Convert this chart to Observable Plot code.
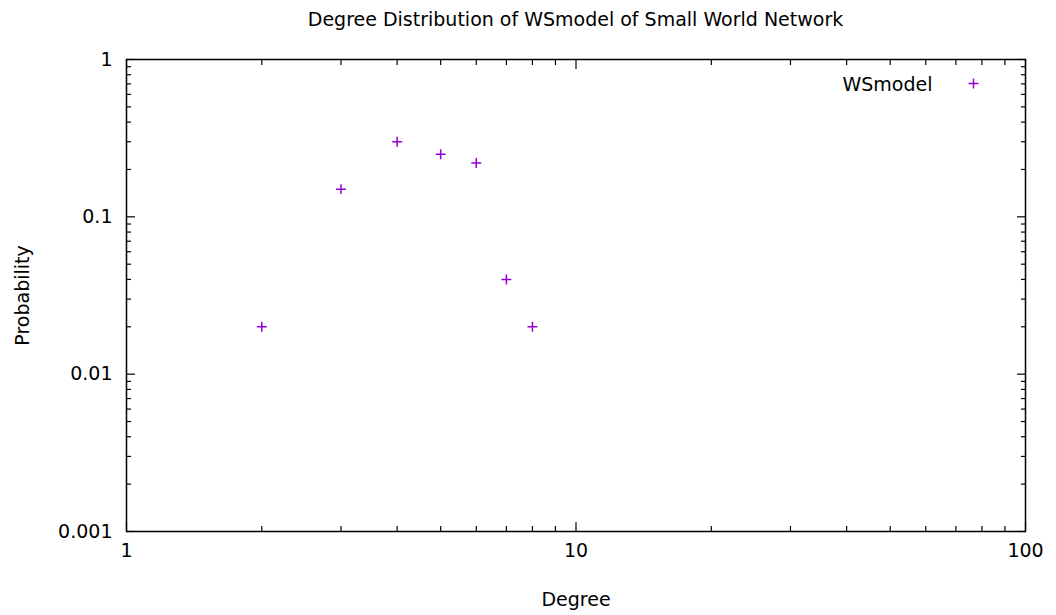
<!DOCTYPE html>
<html>
<head>
<meta charset="utf-8">
<script src="https://cdn.jsdelivr.net/npm/d3@7"></script>
<script src="https://cdn.jsdelivr.net/npm/@observablehq/plot@0.6"></script>
<style>
  body { margin: 0; background: #fff; font-family: "DejaVu Sans", sans-serif; }
  #wrap { position: relative; width: 1056px; height: 615px; }
  #title { position: absolute; left: 126px; width: 899px; top: 7px; text-align: center; font-size: 19px; line-height: 24px; color: #000; white-space: nowrap; }
  #chart { position: absolute; left: 0; top: 0; }
</style>
</head>
<body>
<div id="wrap">
  <div id="chart"></div>
  <div id="title">Degree Distribution of WSmodel of Small World Network</div>
</div>
<script>
const degrees = [2, 3, 4, 5, 6, 7, 8];
const probabilities = [0.02, 0.15, 0.3, 0.25, 0.22, 0.04, 0.02];
const seriesName = "WSmodel";
const xMajorTicks = [1, 10, 100];
const yMajorTicks = [0.001, 0.01, 0.1, 1];
const xTickLabels = ["1", "10", "100"];
const yTickLabels = ["0.001", "0.01", "0.1", "1"];

const data = degrees.map((d, i) => ({degree: d, prob: probabilities[i]}));
const xLabelOf = new Map(xMajorTicks.map((v, i) => [v, xTickLabels[i]]));
const yLabelOf = new Map(yMajorTicks.map((v, i) => [v, yTickLabels[i]]));
const xMinor = [];
for (const p of [1, 10]) for (let k = 2; k <= 9; k++) xMinor.push(k * p);
const yMinor = [];
for (const p of [0.001, 0.01, 0.1]) for (let k = 2; k <= 9; k++) yMinor.push(+(k * p).toPrecision(3));

const color = "#9400d3";
const font = "DejaVu Sans, sans-serif";
const fs = 19;
const tickOpts = {text: null, label: null, strokeWidth: 1.2};

const chart = Plot.plot({
  width: 1056,
  height: 615,
  marginLeft: 126,
  marginRight: 31,
  marginTop: 59,
  marginBottom: 84,
  style: {fontFamily: font, fontSize: fs + "px", color: "#000", background: "transparent"},
  x: {type: "log", domain: [1, 100]},
  y: {type: "log", domain: [0.001, 1]},
  marks: [
    Plot.frame({stroke: "#000", strokeWidth: 1.5}),
    // major ticks (inward, mirrored)
    Plot.axisX(xMajorTicks, {anchor: "bottom", tickSize: -9, ...tickOpts}),
    Plot.axisX(xMajorTicks, {anchor: "top", tickSize: -9, ...tickOpts}),
    Plot.axisY(yMajorTicks, {anchor: "left", tickSize: -9, ...tickOpts}),
    Plot.axisY(yMajorTicks, {anchor: "right", tickSize: -9, ...tickOpts}),
    // minor ticks
    Plot.axisX(xMinor, {anchor: "bottom", tickSize: -5, ...tickOpts}),
    Plot.axisX(xMinor, {anchor: "top", tickSize: -5, ...tickOpts}),
    Plot.axisY(yMinor, {anchor: "left", tickSize: -5, ...tickOpts}),
    Plot.axisY(yMinor, {anchor: "right", tickSize: -5, ...tickOpts}),
    // tick labels
    Plot.axisX(xMajorTicks, {anchor: "bottom", tickSize: 0, tickPadding: 12, tickFormat: (d) => xLabelOf.get(d), fontSize: fs, label: null}),
    Plot.axisY(yMajorTicks, {anchor: "left", tickSize: 0, tickPadding: 14, tickFormat: (d) => yLabelOf.get(d), fontSize: fs, label: null}),
    // axis titles
    Plot.text(["Degree"], {frameAnchor: "bottom", dy: 68, textAnchor: "middle", lineAnchor: "middle", fontSize: fs}),
    Plot.text(["Probability"], {frameAnchor: "left", dx: -104, rotate: -90, textAnchor: "middle", lineAnchor: "middle", fontSize: fs}),
    // legend
    Plot.text([seriesName], {frameAnchor: "top-right", dx: -93, dy: 25, textAnchor: "end", lineAnchor: "middle", fontSize: fs}),
    Plot.dot([seriesName], {frameAnchor: "top-right", dx: -52, dy: 24, symbol: "plus", r: 3.3, stroke: color, strokeWidth: 1.5}),
    // data
    Plot.dot(data, {x: "degree", y: "prob", symbol: "plus", r: 3.3, stroke: color, strokeWidth: 1.5})
  ]
});
document.getElementById("chart").appendChild(chart);
</script>
</body>
</html>
